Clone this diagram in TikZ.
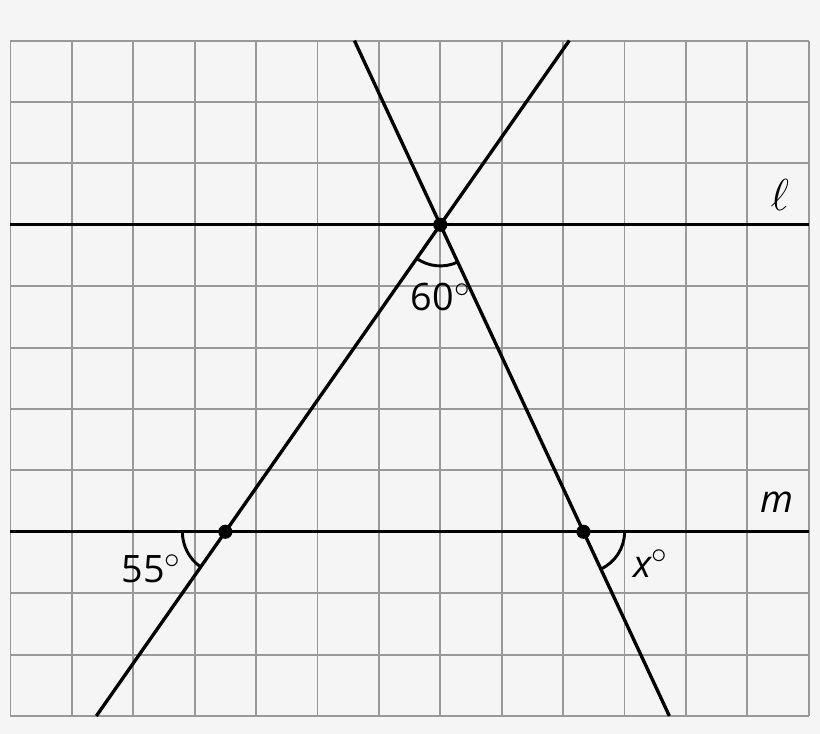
\documentclass[tikz,border=0pt]{standalone}
\usepackage{fontspec}
\setmainfont{Open Sans}
\newcommand{\degsym}{\raisebox{6.2pt}{\fontsize{14.5}{14.5}\selectfont$\circ$}}
\begin{document}
\begin{tikzpicture}[x=1cm,y=1cm,
  gridline/.style={draw=black!40, line width=0.9pt},
  mainline/.style={draw=black, line width=1.55pt},
  anglearc/.style={draw=black, line width=1.35pt},
  dot/.style={circle, fill=black, inner sep=0pt, minimum size=0.23cm},
  lbl/.style={font=\fontsize{17.5}{20}\selectfont, inner sep=0pt}]
\fill[black!4] (-0.171,-0.293) rectangle (13.184,11.661);
\useasboundingbox (-0.171,-0.293) rectangle (13.184,11.661);
\draw[gridline] (0,0) grid (13,11);
% named coordinates
\coordinate (L1) at (0,8);
\coordinate (L2) at (13,8);
\coordinate (M1) at (0,3);
\coordinate (M2) at (13,3);
\coordinate (P1) at (1.3983,0);
\coordinate (P2) at (9.1006,11);
\coordinate (Q1) at (5.6011,11);
\coordinate (Q2) at (10.7305,0);
% lines
\draw[mainline] (L1) -- (L2);
\draw[mainline] (M1) -- (M2);
\draw[mainline] (P1) -- (P2);
\draw[mainline] (Q1) -- (Q2);
% points
\node[dot] (A) at (7,8) {};
\node[dot] (B) at (3.4990,3) {};
\node[dot] (C) at (9.3315,3) {};
% angle arcs
\draw[anglearc] (A.center) ++(235:0.67) arc[start angle=235, end angle=295, radius=0.67];
\draw[anglearc] (B.center) ++(180:0.7) arc[start angle=180, end angle=235, radius=0.7];
\draw[anglearc] (C.center) ++(0:0.67) arc[start angle=0, end angle=-65, radius=0.67];
% labels
\node[lbl, anchor=base] (a60) at (7.0,6.60) {60\degsym};
\node[lbl, anchor=base] (a55) at (2.29,2.18) {55\degsym};
\node[lbl, anchor=base west] (ax) at (10.14,2.26) {\itshape x\upshape\degsym};
\node[lbl, anchor=base] (lm) at (12.49,3.32) {\itshape m};
\node[lbl, anchor=base, font=\fontsize{20.5}{24}\selectfont] (ll) at (12.53,8.24) {$\ell$};
\end{tikzpicture}
\end{document}
